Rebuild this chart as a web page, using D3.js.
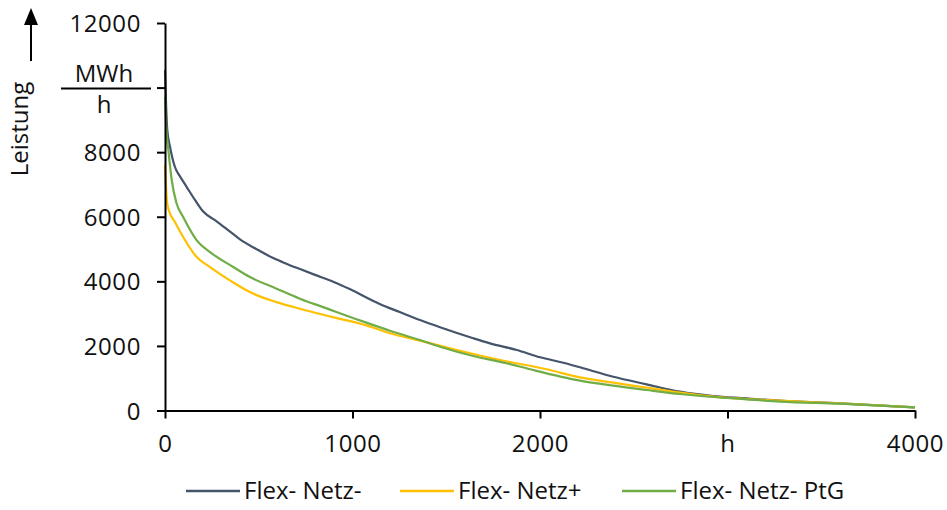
<!DOCTYPE html>
<html>
<head>
<meta charset="utf-8">
<script src="https://cdn.jsdelivr.net/npm/d3@7"></script>
<style>
  html, body { margin: 0; padding: 0; background: #fff; }
  svg { display: block; }
  text { font-family: "Open Sans", "Noto Sans", sans-serif; fill: #111; }
</style>
</head>
<body>
<svg id="chart" width="947" height="510"></svg>
<script>
// ---- data (hours, MW) ----
const seriesNames = ["Flex- Netz-", "Flex- Netz+", "Flex- Netz- PtG"];
const seriesColors = ["#44546A", "#FFC000", "#70AD47"];

const netzMinus = [
  [0,10540],[5,9600],[12,8700],[27,8160],[53,7540],[80,7250],[116,6920],[160,6520],
  [204,6160],[275,5860],[340,5570],[400,5300],[490,4990],[577,4720],[650,4540],[720,4380],
  [800,4200],[900,3980],[985,3760],[1145,3300],[1252,3048],[1360,2800],[1467,2577],
  [1644,2236],[1733,2080],[1876,1874],[2000,1648],[2124,1480],[2213,1338],[2391,1047],
  [2569,811],[2747,582],[2924,449],[3102,378],[3280,303],[3600,223],[4000,95]
];
const netzPlus = [
  [0,7595],[5,7000],[10,6500],[18,6250],[53,5837],[97,5372],[169,4752],[240,4442],
  [346,4030],[453,3667],[595,3357],[719,3152],[896,2892],[1074,2635],[1200,2391],
  [1360,2162],[1556,1874],[1769,1586],[2036,1276],[2213,1028],[2391,861],[2569,706],
  [2747,551],[2924,427],[3102,356],[3280,303],[3600,220],[4000,95]
];
const netzMinusPtG = [
  [0,9713],[6,8800],[18,8060],[36,7130],[62,6408],[97,5992],[169,5270],[240,4907],
  [364,4442],[453,4132],[595,3773],[719,3463],[843,3202],[1039,2790],[1200,2471],
  [1360,2183],[1467,1976],[1644,1688],[1822,1462],[1947,1276],[2213,923],[2391,768],
  [2569,635],[2747,511],[2924,418],[3102,347],[3280,273],[3600,210],[4000,95]
];

const xTickValues = [0, 1000, 2000, 3000, 4000];
const xTickLabels = ["0", "1000", "2000", "h", "4000"];
const yTickValues = [0, 2000, 4000, 6000, 8000, 10000, 12000];
const yTickLabels = ["0", "2000", "4000", "6000", "8000", "", "12000"];
const yUnitTop = "MWh";
const yUnitBottom = "h";
const yTitle = "Leistung";

// ---- drawing ----
const svg = d3.select("#chart");
const x = d3.scaleLinear().domain([0, 4000]).range([165, 915]);
const y = d3.scaleLinear().domain([0, 12000]).range([410.5, 23]);

const FS = 24;

// lines
const line = d3.line().x(d => x(d[0])).y(d => y(d[1])).curve(d3.curveMonotoneX);
const allSeries = [netzMinus, netzPlus, netzMinusPtG];
svg.append("g").selectAll("path").data(allSeries).join("path")
  .attr("d", line)
  .attr("fill", "none")
  .attr("stroke", (d, i) => seriesColors[i])
  .attr("stroke-width", 2.2)
  .attr("stroke-linejoin", "round");

// y axis
const yAxis = svg.append("g").attr("transform", `translate(${x(0)},0)`)
  .call(d3.axisLeft(y).tickValues(yTickValues)
    .tickFormat((d, i) => yTickLabels[i]).tickSize(8).tickSizeOuter(0));
// x axis
const xAxis = svg.append("g").attr("transform", `translate(0,${y(0)})`)
  .call(d3.axisBottom(x).tickValues(xTickValues)
    .tickFormat((d, i) => xTickLabels[i]).tickSize(8).tickSizeOuter(0));

[yAxis, xAxis].forEach(g => {
  g.selectAll("path.domain").attr("stroke", "#000").attr("stroke-width", 2);
  g.selectAll(".tick line").attr("stroke", "#000").attr("stroke-width", 2);
  g.selectAll("text").attr("font-size", FS)
    .attr("font-family", '"Open Sans", "Noto Sans", sans-serif')
    .attr("fill", "#111");
});
yAxis.selectAll(".tick text").attr("x", -24).attr("dy", "0.36em").attr("letter-spacing", 0.6);
xAxis.selectAll(".tick text").attr("y", 24).attr("dy", "0.71em").attr("letter-spacing", 0.6);

// unit fraction at 10000
const fx = 104;
svg.append("text").attr("x", fx).attr("y", 82).attr("text-anchor", "middle")
  .attr("font-size", FS).text(yUnitTop);
svg.append("line").attr("x1", 61).attr("x2", 151).attr("y1", y(10000) + 1).attr("y2", y(10000) + 1)
  .attr("stroke", "#000").attr("stroke-width", 2);
svg.append("text").attr("x", fx).attr("y", 113).attr("text-anchor", "middle")
  .attr("font-size", FS).text(yUnitBottom);

// y title rotated with arrow
svg.append("text").attr("transform", "translate(28,129) rotate(-90)")
  .attr("text-anchor", "middle").attr("font-size", FS).text(yTitle);
svg.append("line").attr("x1", 31).attr("x2", 31).attr("y1", 61).attr("y2", 20)
  .attr("stroke", "#000").attr("stroke-width", 2);
svg.append("path").attr("d", "M31,8 L24,25 L38,25 Z").attr("fill", "#000");

// legend
const legendX = [186, 400, 622];
const lg = svg.append("g").selectAll("g").data(seriesNames).join("g")
  .attr("transform", (d, i) => `translate(${legendX[i]},491)`);
lg.append("line").attr("x1", 0).attr("x2", 54).attr("y1", 0).attr("y2", 0)
  .attr("stroke", (d, i) => seriesColors[i]).attr("stroke-width", 2.4);
lg.append("text").attr("x", 58).attr("y", 8).attr("font-size", FS).text(d => d);
</script>
</body>
</html>
